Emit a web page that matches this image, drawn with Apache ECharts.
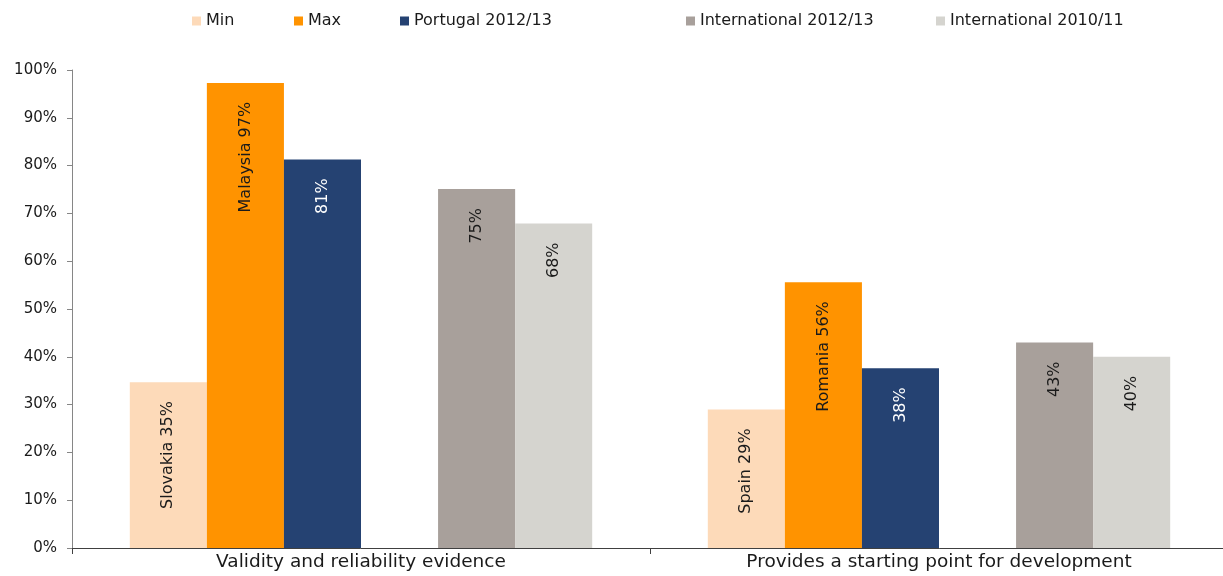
<!DOCTYPE html>
<html><head><meta charset="utf-8">
<script src="https://cdn.jsdelivr.net/npm/echarts@6/dist/echarts.min.js"></script>
<style>html,body{margin:0;padding:0;background:#fff;overflow:hidden}#c{width:1228px;height:576px}</style>
</head><body><div id="c"></div>
<script>
var categories = ['Validity and reliability evidence', 'Provides a starting point for development'];
var seriesNames = ['Min', 'Max', 'Portugal 2012/13', 'International 2012/13', 'International 2010/11'];
var minValues = [34.7, 29.0];
var minCountries = ['Slovakia', 'Spain'];
var maxValues = [97.3, 55.6];
var maxCountries = ['Malaysia', 'Romania'];
var portugalValues = [81.3, 37.6];
var intl1213Values = [75.1, 43.0];
var intl1011Values = [67.9, 40.0];
var yTicks = [0, 10, 20, 30, 40, 50, 60, 70, 80, 90, 100];

var colors = ['#FDDAB9', '#FF9300', '#254272', '#A8A09B', '#D5D4CF'];
var FONT = '"DejaVu Sans", Verdana, sans-serif';
var TXT = '#1a1a1a';

function lbl(color, prefixes) {
  return {
    show: true, position: 'insideTop', distance: 19, rotate: 90,
    align: 'right', verticalAlign: 'middle',
    color: color, fontFamily: FONT, fontSize: 16,
    formatter: function (p) {
      var v = Math.round(p.value) + '%';
      return prefixes ? prefixes[p.dataIndex] + ' ' + v : v;
    }
  };
}

var chart = echarts.init(document.getElementById('c'));
var legendLeft = [192, 294, 400, 686, 936];
var legends = seriesNames.map(function (n, i) {
  return {
    data: [n], left: legendLeft[i], top: 13, padding: 0, itemWidth: 9, itemHeight: 9,
    icon: 'rect', itemGap: 0,
    textStyle: {fontFamily: FONT, fontSize: 16, color: TXT}
  };
});

function bar(i, data, label) {
  var s = {name: seriesNames[i], type: 'bar', data: data, barGap: 0, barCategoryGap: '20%',
    itemStyle: {color: colors[i]}};
  if (label) s.label = label;
  return s;
}

chart.setOption({
  animation: false,
  legend: legends,
  grid: {left: 72, right: 0, top: 70, bottom: 28, containLabel: false},
  xAxis: {
    type: 'category', data: categories,
    axisLine: {lineStyle: {color: '#404040', width: 1}},
    axisTick: {show: true, length: 6, lineStyle: {color: '#404040'}},
    axisLabel: {fontFamily: FONT, fontSize: 18.5, color: TXT, margin: 5}
  },
  yAxis: {
    type: 'value', min: yTicks[0], max: yTicks[yTicks.length - 1], interval: 10,
    axisLine: {show: true, lineStyle: {color: '#868686'}},
    axisTick: {show: true, length: 5, lineStyle: {color: '#868686'}},
    splitLine: {show: false},
    axisLabel: {fontFamily: FONT, fontSize: 15, color: TXT, margin: 15, formatter: '{value}%'}
  },
  series: [
    bar(0, minValues, lbl(TXT, minCountries)),
    bar(1, maxValues, lbl(TXT, maxCountries)),
    bar(2, portugalValues, lbl('#fff')),
    {name: '', type: 'bar', data: [null, null], barGap: 0, barCategoryGap: '20%'},
    bar(3, intl1213Values, lbl(TXT)),
    bar(4, intl1011Values, lbl(TXT))
  ]
});
</script></body></html>
